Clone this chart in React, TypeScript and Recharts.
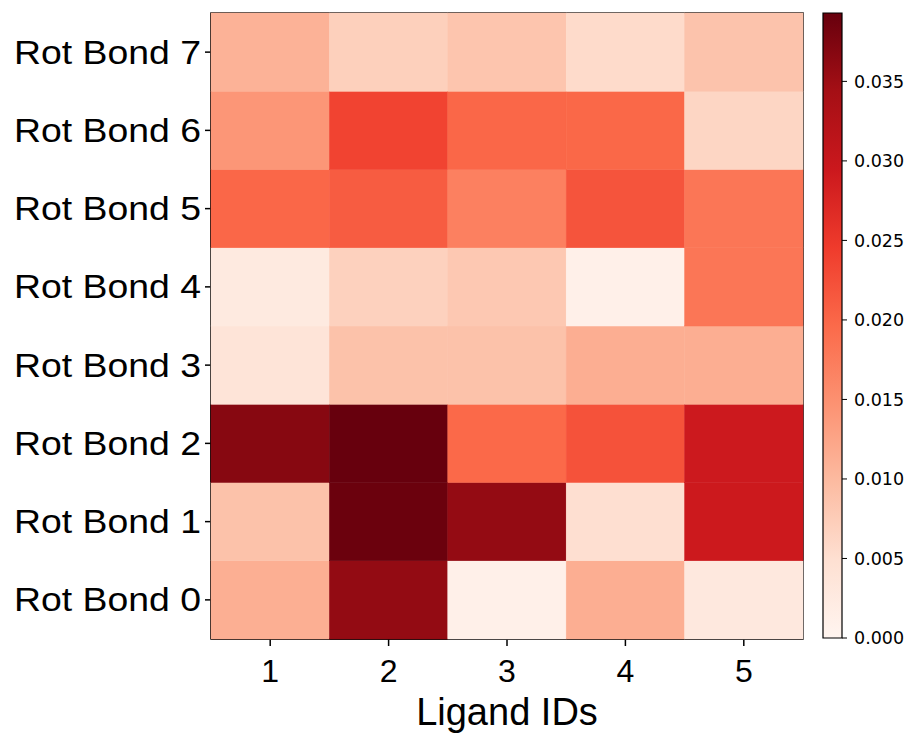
import React from 'react';
import {
  ScatterChart,
  Scatter,
  BarChart,
  Bar,
  XAxis,
  YAxis,
  Label,
  ReferenceArea,
} from 'recharts';

// Rot Bond 0..7 の値（リガンドごと）
const LIGAND_IDS = [1, 2, 3, 4, 5];
const ROT_BONDS = [0, 1, 2, 3, 4, 5, 6, 7];
const LIGAND_1 = [0.0113, 0.0089, 0.0368, 0.004, 0.0026, 0.02, 0.0142, 0.0109];
const LIGAND_2 = [0.0358, 0.039, 0.0393, 0.0089, 0.0069, 0.0211, 0.0237, 0.0071];
const LIGAND_3 = [0.0012, 0.0357, 0.0198, 0.0089, 0.0081, 0.017, 0.02, 0.0085];
const LIGAND_4 = [0.0114, 0.005, 0.0222, 0.0114, 0.0012, 0.022, 0.0199, 0.0056];
const LIGAND_5 = [0.003, 0.0294, 0.0293, 0.0114, 0.0182, 0.0182, 0.0063, 0.0087];
const COLORBAR_TICKS = [0, 0.005, 0.01, 0.015, 0.02, 0.025, 0.03, 0.035];
const VMAX = 0.0393;

const LIGANDS = [LIGAND_1, LIGAND_2, LIGAND_3, LIGAND_4, LIGAND_5];

// matplotlib の Reds カラーマップ
const REDS = ['#fff5f0', '#fee0d2', '#fcbba1', '#fc9272', '#fb6a4a', '#ef3b2c', '#cb181d', '#a50f15', '#67000d'];

const hexToRgb = (h: string) => [1, 3, 5].map(i => parseInt(h.slice(i, i + 2), 16));

const redsColor = (v: number) => {
  const t = Math.max(0, Math.min(1, v / VMAX)) * (REDS.length - 1);
  const i = Math.min(Math.floor(t), REDS.length - 2);
  const f = t - i;
  const a = hexToRgb(REDS[i]);
  const b = hexToRgb(REDS[i + 1]);
  const c = a.map((x, k) => Math.round(x + (b[k] - x) * f));
  return `rgb(${c[0]},${c[1]},${c[2]})`;
};

const CHART_W = 810;
const CHART_H = 736;
const MARGIN = { top: 13, right: 7, left: 1, bottom: 0 };
const Y_AXIS_W = 210;
const X_AXIS_H = 97;
const PLOT_W = CHART_W - MARGIN.left - MARGIN.right - Y_AXIS_W;
const PLOT_H = CHART_H - MARGIN.top - MARGIN.bottom - X_AXIS_H;
const CELL_W = PLOT_W / LIGAND_IDS.length;
const CELL_H = PLOT_H / ROT_BONDS.length;

const cells = LIGAND_IDS.flatMap((id, ci) =>
  ROT_BONDS.map((rb, ri) => ({ x: id, y: rb, v: LIGANDS[ci][ri] }))
);

const LABEL_FONT = '"Liberation Sans", Arial, sans-serif';

const CellShape = (props: any) => {
  const { cx, cy, payload } = props;
  const c = redsColor(payload.v);
  return (
    <rect
      x={cx - CELL_W / 2}
      y={cy - CELL_H / 2}
      width={CELL_W}
      height={CELL_H}
      fill={c}
      stroke={c}
      strokeWidth={0.5}
    />
  );
};

// 横に少し引き伸ばされたラベル
const RotBondTick = (props: any) => {
  const { x, y, payload } = props;
  return (
    <text
      x={x}
      y={y}
      textAnchor="end"
      dominantBaseline="central"
      fontSize={32.5}
      fontFamily={LABEL_FONT}
      fill="#000"
      transform={`translate(${x},${y}) scale(1.15,1) translate(${-x},${-y})`}
    >
      {`Rot Bond ${payload.value}`}
    </text>
  );
};

export default function App() {
  return (
    <div style={{ position: 'absolute', left: 0, top: 0, width: 915, height: 736, background: '#fff' }}>
      <div style={{ position: 'absolute', left: 0, top: 0 }}>
        <ScatterChart width={CHART_W} height={CHART_H} margin={MARGIN}>
          <XAxis
            type="number"
            dataKey="x"
            domain={[0.5, 5.5]}
            ticks={LIGAND_IDS}
            height={X_AXIS_H}
            tickSize={7}
            tickMargin={13}
            axisLine={{ stroke: '#000', strokeWidth: 1.5 }}
            tickLine={{ stroke: '#000', strokeWidth: 1.5 }}
            tick={{ fill: '#000', fontSize: 32, fontFamily: LABEL_FONT }}
          >
            <Label
              value="Ligand IDs"
              position="insideBottom"
              offset={11}
              style={{ fill: '#000', fontSize: 38, fontFamily: LABEL_FONT }}
            />
          </XAxis>
          <YAxis
            type="number"
            dataKey="y"
            domain={[-0.5, 7.5]}
            ticks={ROT_BONDS}
            width={Y_AXIS_W}
            tickSize={6}
            tickMargin={4}
            axisLine={{ stroke: '#000', strokeWidth: 1.5 }}
            tickLine={{ stroke: '#000', strokeWidth: 1.5 }}
            tick={<RotBondTick />}
          />
          <Scatter data={cells} shape={<CellShape />} isAnimationActive={false} />
          <ReferenceArea
            x1={0.5}
            x2={5.5}
            y1={-0.5}
            y2={7.5}
            fill="none"
            fillOpacity={0}
            stroke="#000"
            strokeWidth={1.5}
            strokeOpacity={1}
          />
        </ScatterChart>
      </div>
      <div style={{ position: 'absolute', left: 812, top: 0 }}>
        <BarChart
          width={103}
          height={CHART_H}
          data={[{ k: 'cb', v: VMAX }]}
          margin={{ top: 13, right: 0, left: 11, bottom: X_AXIS_H + 1 }}
          barCategoryGap={0}
        >
          <defs>
            <linearGradient id="redsGrad" x1="0" y1="1" x2="0" y2="0">
              {REDS.map((c, i) => (
                <stop key={c} offset={i / (REDS.length - 1)} stopColor={c} />
              ))}
            </linearGradient>
          </defs>
          <XAxis dataKey="k" hide />
          <YAxis
            orientation="right"
            domain={[0, VMAX]}
            ticks={COLORBAR_TICKS}
            width={73}
            tickSize={5}
            tickMargin={7}
            axisLine={false}
            tickLine={{ stroke: '#000' }}
            tickFormatter={(v: number) => v.toFixed(3)}
            tick={{ fill: '#000', fontSize: 17.5, fontFamily: '"DejaVu Sans", sans-serif' }}
          />
          <Bar dataKey="v" fill="url(#redsGrad)" stroke="#000" strokeWidth={1.2} isAnimationActive={false} />
        </BarChart>
      </div>
    </div>
  );
}
